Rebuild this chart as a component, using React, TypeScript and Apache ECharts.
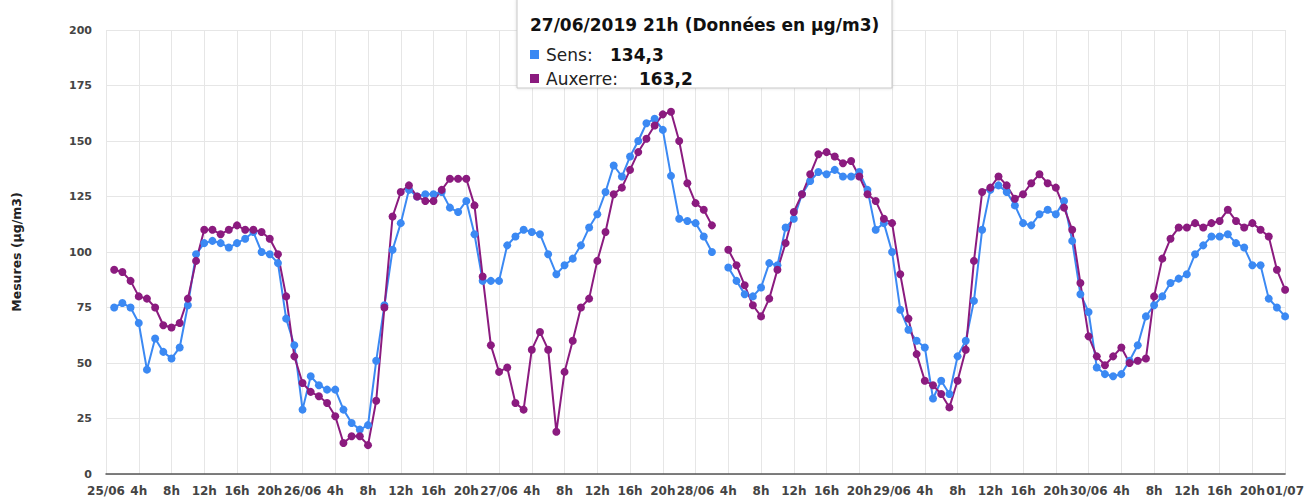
import React, { useEffect, useRef } from "react";
import * as echarts from "echarts";

// Day labels on the x axis (every 24 h)
const dayLabels = ["25/06", "26/06", "27/06", "28/06", "29/06", "30/06", "01/07"];
// Y axis ticks
const yTicks = { min: 0, max: 200, interval: 25 };

// Hourly values, 1h .. 24h (24h = next day 0h). null = missing measurement
const sensDay1 = [75, 77, 75, 68, 47, 61, 55, 52, 57, 76, 99, 104, 105, 104, 102, 104, 106, 109, 100, 99, 95, 70, 58, 29];
const sensDay2 = [44, 40, 38, 38, 29, 23, 20, 22, 51, 76, 101, 113, 128, 125, 126, 126, 127, 120, 118, 123, 108, 87, 87, 87];
const sensDay3 = [103, 107, 110, 109, 108, 99, 90, 94, 97, 103, 111, 117, 127, 139, 134, 143, 150, 158, 160, 155, 134.3, 115, 114, 113];
const sensDay4 = [107, 100, null, 93, 87, 81, 80, 84, 95, 94, 111, 115, 126, 132, 136, 135, 137, 134, 134, 136, 128, 110, 113, 100];
const sensDay5 = [74, 65, 60, 57, 34, 42, 36, 53, 60, 78, 110, 128, 130, 127, 121, 113, 112, 117, 119, 117, 123, 105, 81, 73];
const sensDay6 = [48, 45, 44, 45, 51, 58, 71, 76, 80, 86, 88, 90, 99, 103, 107, 107, 108, 104, 102, 94, 94, 79, 75, 71];

const auxDay1 = [92, 91, 87, 80, 79, 75, 67, 66, 68, 79, 96, 110, 110, 108, 110, 112, 110, 110, 109, 106, 99, 80, 53, 41];
const auxDay2 = [37, 35, 32, 26, 14, 17, 17, 13, 33, 75, 116, 127, 130, 125, 123, 123, 128, 133, 133, 133, 121, 89, 58, 46];
const auxDay3 = [48, 32, 29, 56, 64, 56, 19, 46, 60, 75, 79, 96, 109, 126, 129, 137, 145, 151, 157, 162, 163.2, 150, 131, 122];
const auxDay4 = [119, 112, null, 101, 94, 85, 76, 71, 79, 92, 104, 118, 126, 135, 144, 145, 143, 140, 141, 134, 126, 123, 115, 113];
const auxDay5 = [90, 70, 54, 42, 40, 36, 30, 42, 56, 96, 127, 129, 134, 130, 124, 126, 131, 135, 131, 129, 120, 110, 86, 62];
const auxDay6 = [53, 49, 53, 57, 50, 51, 52, 80, 97, 106, 111, 111, 113, 111, 113, 114, 119, 114, 111, 113, 110, 107, 92, 83];

// Tooltip content shown in the reference
const tipTitle = "27/06/2019 21h (Données en µg/m3)";
const tipSens = "134,3";
const tipAux = "163,2";

const BLUE = "#3b89f3";
const PURPLE = "#8b1b7f";
const FONT = "DejaVu Sans";

const categories: string[] = [];
for (let h = 0; h <= 144; h++) {
  categories.push(h % 24 === 0 ? dayLabels[h / 24] : `${h % 24}h`);
}
const sens = [null, ...sensDay1, ...sensDay2, ...sensDay3, ...sensDay4, ...sensDay5, ...sensDay6];
const auxerre = [null, ...auxDay1, ...auxDay2, ...auxDay3, ...auxDay4, ...auxDay5, ...auxDay6];

export default function App() {
  const ref = useRef<HTMLDivElement>(null);
  useEffect(() => {
    document.body.style.margin = "0";
    if (!ref.current) return;
    const chart = echarts.init(ref.current, undefined, { renderer: "svg" });
    const lineSeries = (name: string, data: (number | null)[], color: string) => ({
      name,
      type: "line",
      data,
      symbol: "circle",
      symbolSize: 8,
      showSymbol: true,
      showAllSymbol: true,
      connectNulls: false,
      lineStyle: { color, width: 2 },
      itemStyle: { color },
      emphasis: { disabled: true },
    });
    const Z = 100;
    chart.setOption({
      animation: false,
      textStyle: { fontFamily: FONT },
      grid: { left: 106, right: 19, top: 30, bottom: 24, containLabel: false },
      xAxis: {
        type: "category",
        data: categories,
        boundaryGap: false,
        axisLine: { lineStyle: { color: "#555", width: 1.5 } },
        axisTick: { show: false },
        axisLabel: {
          interval: 3,
          margin: 11,
          color: "#444",
          fontWeight: "bold",
          fontSize: 12,
          fontFamily: FONT,
        },
        splitLine: { show: true, interval: 3, lineStyle: { color: "#e6e6e6", width: 1 } },
      },
      yAxis: {
        type: "value",
        min: yTicks.min,
        max: yTicks.max,
        interval: yTicks.interval,
        name: "Mesures (µg/m3)",
        nameLocation: "middle",
        nameGap: 83,
        nameRotate: 90,
        nameTextStyle: { fontFamily: FONT, fontWeight: "bold", fontSize: 12.5, color: "#222" },
        axisLine: { show: false },
        axisTick: { show: false },
        axisLabel: { margin: 14, color: "#444", fontWeight: "bold", fontSize: 11, fontFamily: FONT },
        splitLine: { lineStyle: { color: "#e6e6e6", width: 1 } },
      },
      series: [lineSeries("Sens", sens, BLUE), lineSeries("Auxerre", auxerre, PURPLE)],
      graphic: [
        {
          type: "rect",
          z: Z,
          shape: { x: 517, y: -1, width: 375, height: 89 },
          style: { fill: "#fff", stroke: "#c8c8c8", lineWidth: 1, shadowBlur: 3, shadowColor: "rgba(0,0,0,0.15)" },
        },
        {
          type: "text",
          z: Z + 1,
          x: 530,
          y: 25,
          style: { text: tipTitle, font: `bold 17px "${FONT}"`, fill: "#111", textVerticalAlign: "middle" },
        },
        { type: "rect", z: Z + 1, shape: { x: 530, y: 50, width: 9, height: 9 }, style: { fill: BLUE } },
        {
          type: "text",
          z: Z + 1,
          x: 546,
          y: 55,
          style: { text: "Sens:", font: `17px "${FONT}"`, fill: "#222", textVerticalAlign: "middle" },
        },
        {
          type: "text",
          z: Z + 1,
          x: 610,
          y: 55,
          style: { text: tipSens, font: `bold 17px "${FONT}"`, fill: "#111", textVerticalAlign: "middle" },
        },
        { type: "rect", z: Z + 1, shape: { x: 530, y: 74, width: 9, height: 9 }, style: { fill: PURPLE } },
        {
          type: "text",
          z: Z + 1,
          x: 546,
          y: 79,
          style: { text: "Auxerre:", font: `17px "${FONT}"`, fill: "#222", textVerticalAlign: "middle" },
        },
        {
          type: "text",
          z: Z + 1,
          x: 639,
          y: 79,
          style: { text: tipAux, font: `bold 17px "${FONT}"`, fill: "#111", textVerticalAlign: "middle" },
        },
      ],
    });
    return () => chart.dispose();
  }, []);
  return <div ref={ref} style={{ width: 1307, height: 498 }} />;
}
